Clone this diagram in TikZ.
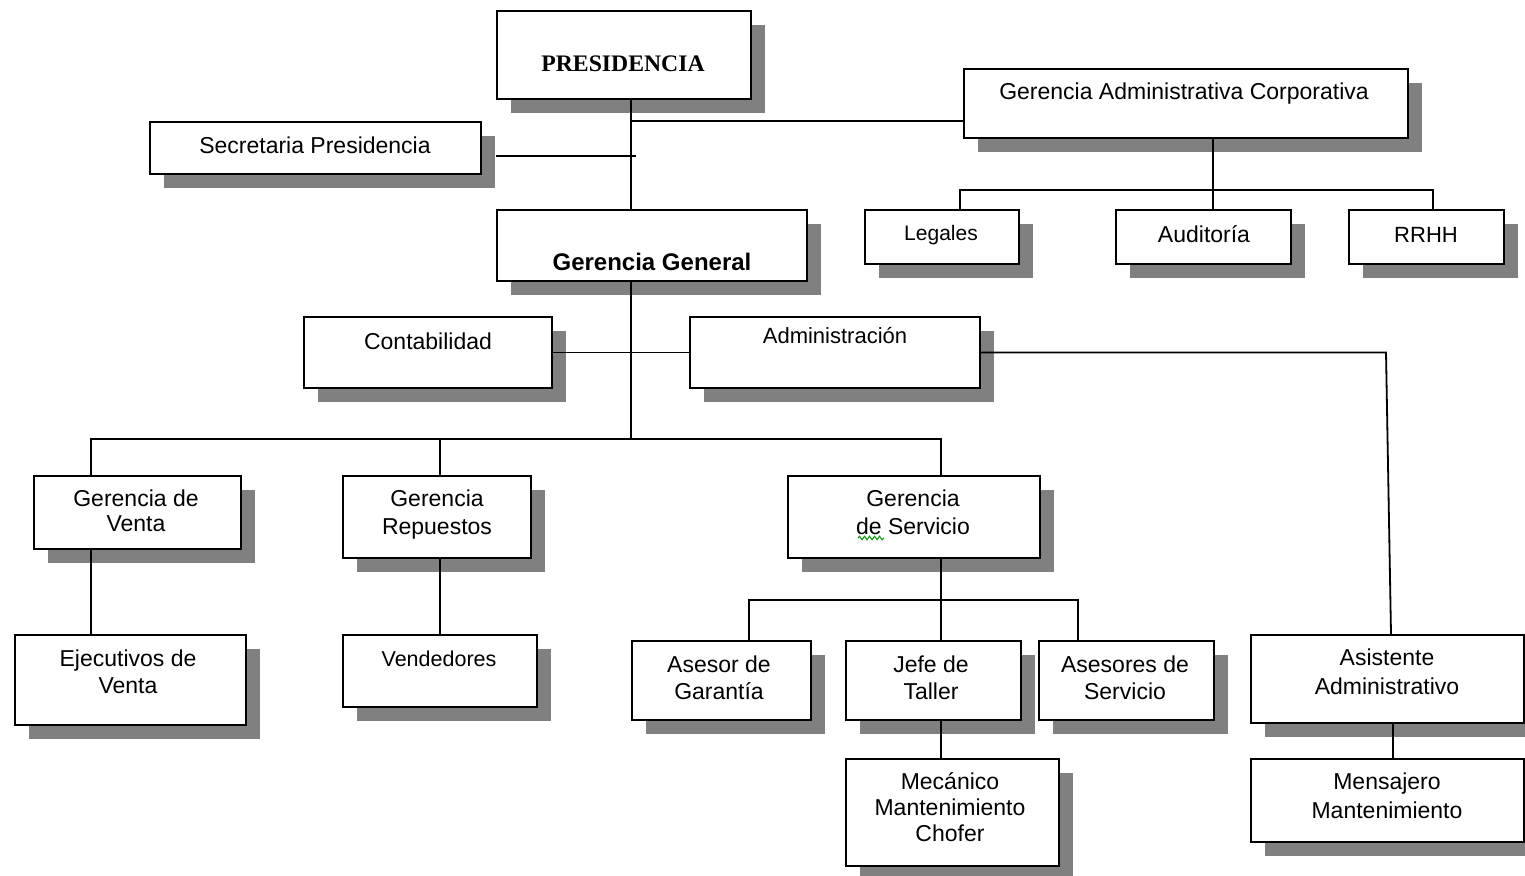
\documentclass[tikz,border=0pt]{standalone}
\usepackage{fontspec}
\setmainfont{Liberation Sans}
\newfontfamily\serifbf{Liberation Serif}
\usetikzlibrary{shadows,decorations.pathmorphing}
\definecolor{shgray}{RGB}{128,128,128}
\newcommand\mlines[1]{\vtop{\lineskiplimit=-1000pt\halign{\hfil##\hfil\cr#1\crcr}}}
\begin{document}
\begin{tikzpicture}[x=1pt,y=-1pt,
  box/.style={draw=black, line width=1.8pt, fill=white, inner sep=0pt, anchor=north west,
    drop shadow={shadow xshift=14pt, shadow yshift=-14pt, fill=shgray, opacity=1}},
  txt/.style={inner sep=0pt, anchor=base, font=\fontsize{23}{27}\selectfont},
  fs/.style 2 args={font=\fontsize{#1}{#2}\selectfont},
  conn/.style={line width=1.8pt, draw=black}]
\useasboundingbox (0,0) rectangle (1525,875);

% boxes
\node[box, minimum width=254pt, minimum height=88pt] (pres) at (496,10) {};
\node[box, minimum width=331pt, minimum height=52pt] (sec) at (149,121) {};
\node[box, minimum width=444pt, minimum height=69pt] (gac) at (963,68) {};
\node[box, minimum width=154pt, minimum height=54pt] (leg) at (864,209) {};
\node[box, minimum width=175pt, minimum height=54pt] (aud) at (1115,209) {};
\node[box, minimum width=155pt, minimum height=54pt] (rrh) at (1348,209) {};
\node[box, minimum width=310pt, minimum height=71pt] (gg) at (496,209) {};
\node[box, minimum width=248pt, minimum height=71pt] (cont) at (303,316) {};
\node[box, minimum width=290pt, minimum height=71pt] (adm) at (689,316) {};
\node[box, minimum width=207pt, minimum height=73pt] (gv) at (33,475) {};
\node[box, minimum width=188pt, minimum height=82pt] (gr) at (342,475) {};
\node[box, minimum width=252pt, minimum height=82pt] (gs) at (787,475) {};
\node[box, minimum width=231pt, minimum height=90pt] (ejec) at (14,634) {};
\node[box, minimum width=194pt, minimum height=72pt] (vend) at (342,634) {};
\node[box, minimum width=179pt, minimum height=79pt] (aseg) at (631,640) {};
\node[box, minimum width=175pt, minimum height=79pt] (jefe) at (845,640) {};
\node[box, minimum width=175pt, minimum height=79pt] (ases) at (1038,640) {};
\node[box, minimum width=273pt, minimum height=88pt] (asis) at (1250,634) {};
\node[box, minimum width=273pt, minimum height=83pt] (mens) at (1250,758) {};
\node[box, minimum width=213pt, minimum height=107pt] (mec) at (845,758) {};

% texts
\node[txt, font=\serifbf\bfseries\fontsize{23.7}{27}\selectfont] (pres-t) at (623,71) {PRESIDENCIA};
\node[txt] (sec-t) at (315,153) {Secretaria Presidencia};
\node[txt] (gac-t) at (1184,99) {Gerencia Administrativa Corporativa};
\node[txt, fs={21}{25}] (leg-t) at (941,240) {Legales};
\node[txt] (aud-t) at (1204,242) {Auditoría};
\node[txt, fs={22}{25}] (rrh-t) at (1426,242) {RRHH};
\node[txt, font=\bfseries\fontsize{24}{27}\selectfont] (gg-t) at (652,270) {Gerencia General};
\node[txt] (cont-t) at (428,349) {Contabilidad};
\node[txt, fs={22}{25}] (adm-t) at (835,343) {Administración};
\node[txt, fs={23}{25}] (gv-t) at (136,506) {\mlines{Gerencia de\cr Venta}};
\node[txt, fs={23}{28}] (gr-t) at (437,506) {\mlines{Gerencia\cr Repuestos}};
\node[txt, fs={23}{28}] (gs-t) at (913,506) {\mlines{Gerencia\cr de Servicio}};
\node[txt, fs={23}{27}] (ejec-t) at (128,666) {\mlines{Ejecutivos de\cr Venta}};
\node[txt, fs={21.5}{25}] (vend-t) at (439,666) {Vendedores};
\node[txt, fs={23}{27}] (aseg-t) at (719,672) {\mlines{Asesor de\cr Garantía}};
\node[txt, fs={23}{27}] (jefe-t) at (931,672) {\mlines{Jefe de\cr Taller}};
\node[txt, fs={23}{27}] (ases-t) at (1125,672) {\mlines{Asesores de\cr Servicio}};
\node[txt, fs={23}{26}] (mec-t) at (950,789) {\mlines{Mecánico\cr Mantenimiento\cr Chofer}};
\node[txt, fs={23}{29}] (asis-t) at (1387,665) {\mlines{Asistente\cr Administrativo}};
\node[txt, fs={23}{28.5}] (mens-t) at (1387,789.5) {\mlines{Mensajero\cr Mantenimiento}};

% spelling squiggle
\draw[green!60!black, line width=1pt, decorate, decoration={snake, amplitude=1.8pt, segment length=5pt}] (858,538) -- (884,538);

% helper coordinates
\coordinate (tk) at (631,0);
\coordinate (secy) at (0,156);
\coordinate (secend) at (636,0);
\coordinate (gacy) at (0,121);
\coordinate (gacbus) at (0,190);
\coordinate (legx) at (960,0);
\coordinate (audx) at (1213,0);
\coordinate (rrhx) at (1433,0);
\coordinate (mbus) at (0,439);
\coordinate (gvx) at (91,0);
\coordinate (grx) at (440,0);
\coordinate (gsx) at (941,0);
\coordinate (sbus) at (0,600);
\coordinate (sx1) at (749,0);
\coordinate (sx3) at (1078,0);
\coordinate (ac) at (1386,0);
\coordinate (asx) at (1391,0);
\coordinate (mx) at (1393,0);

% connectors
\draw[conn] (pres.south -| tk) -- (gg.north -| tk);
\draw[conn] ([xshift=14pt]sec.east |- secy) -- (secend |- secy);
\draw[conn] (tk |- gacy) -- (gac.west |- gacy);
\draw[conn] (gac.south -| audx) -- (aud.north -| audx);
\draw[conn] (leg.north -| legx) -- (legx |- gacbus) -- (rrhx |- gacbus) -- (rrh.north -| rrhx);
\draw[conn] (gg.south -| tk) -- (tk |- mbus);
\draw[conn] (cont.east) -- (adm.west);
\draw[conn] (adm.east) -- (adm.east -| ac) -- (asis.north -| asx);
\draw[conn] (gv.north -| gvx) -- (gvx |- mbus) -- (gsx |- mbus) -- (gs.north -| gsx);
\draw[conn] (grx |- mbus) -- (gr.north -| grx);
\draw[conn] (gv.south -| gvx) -- (ejec.north -| gvx);
\draw[conn] (gr.south -| grx) -- (vend.north -| grx);
\draw[conn] (gs.south -| gsx) -- (jefe.north -| gsx);
\draw[conn] (aseg.north -| sx1) -- (sx1 |- sbus) -- (sx3 |- sbus) -- (ases.north -| sx3);
\draw[conn] (jefe.south -| gsx) -- (mec.north -| gsx);
\draw[conn] (asis.south -| mx) -- (mens.north -| mx);
\end{tikzpicture}
\end{document}
